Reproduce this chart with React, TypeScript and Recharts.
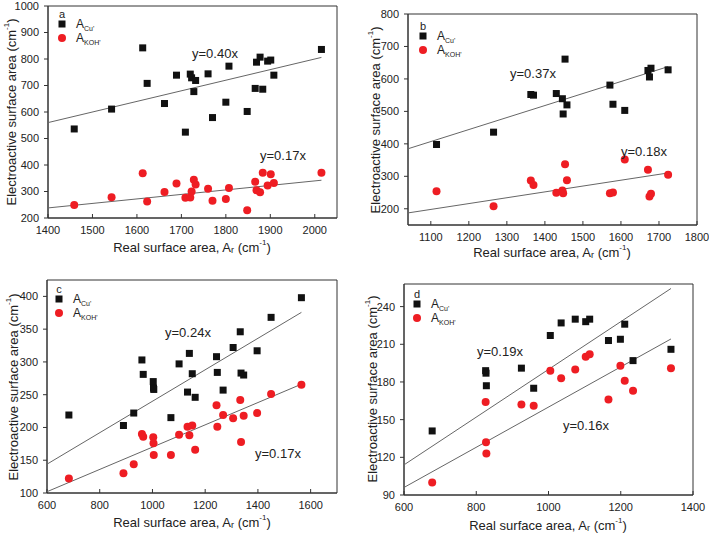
import React from 'react';
import { ScatterChart, Scatter, XAxis, YAxis, ReferenceArea } from 'recharts';

// panel a
const aX = [1459, 1543, 1613, 1623, 1662, 1689, 1709, 1720, 1723, 1728, 1732, 1760, 1770, 1800, 1807, 1848, 1866, 1869, 1877, 1883, 1894, 1901, 1908, 2015];
const aCu = [536, 611, 842, 708, 632, 739, 524, 743, 729, 677, 719, 744, 579, 637, 773, 602, 689, 788, 807, 686, 792, 796, 739, 836];
const aKoh = [249, 278, 369, 262, 298, 330, 276, 277, 300, 344, 326, 310, 265, 272, 313, 229, 337, 305, 297, 371, 323, 365, 332, 371];
const aXTicks = [1400, 1500, 1600, 1700, 1800, 1900, 2000];
const aYTicks = [200, 300, 400, 500, 600, 700, 800, 900, 1000];
const aSlopes = [0.4, 0.17];

// panel b
const bX = [1115, 1265, 1363, 1370, 1430, 1446, 1448, 1453, 1458, 1571, 1579, 1610, 1671, 1675, 1679, 1724];
const bCu = [398, 436, 552, 550, 555, 539, 492, 661, 520, 581, 522, 503, 626, 606, 633, 628];
const bKoh = [254, 208, 287, 273, 249, 256, 248, 337, 288, 248, 250, 352, 320, 238, 246, 305];
const bXTicks = [1100, 1200, 1300, 1400, 1500, 1600, 1700, 1800];
const bYTicks = [200, 300, 400, 500, 600, 700, 800];
const bSlopes = [0.37, 0.18];

// panel c
const cX = [683, 890, 929, 960, 965, 1003, 1004, 1005, 1070, 1101, 1133, 1140, 1151, 1162, 1243, 1246, 1268, 1306, 1333, 1336, 1346, 1397, 1450, 1565];
const cCu = [219, 203, 222, 303, 281, 270, 260, 258, 215, 297, 254, 313, 282, 246, 308, 284, 257, 322, 346, 283, 280, 317, 368, 398];
const cKoh = [122, 130, 144, 190, 186, 185, 176, 158, 158, 189, 201, 188, 203, 166, 234, 201, 219, 214, 242, 178, 218, 222, 251, 265];
const cXTicks = [600, 800, 1000, 1200, 1400, 1600];
const cYTicks = [100, 150, 200, 250, 300, 350, 400];
const cSlopes = [0.24, 0.17];

// panel d
const dX = [678, 826, 827, 828, 925, 959, 1005, 1035, 1074, 1103, 1114, 1166, 1199, 1211, 1234, 1339];
const dCu = [141, 189, 187, 177, 191, 175, 217, 227, 230, 228, 230, 213, 214, 226, 197, 206];
const dKoh = [100, 164, 132, 123, 162, 161, 189, 183, 190, 200, 202, 166, 193, 181, 173, 191];
const dXTicks = [600, 800, 1000, 1200, 1400];
const dYTicks = [90, 120, 150, 180, 210, 240];
const dSlopes = [0.19, 0.16];

const FONT = '"Liberation Sans", Arial, sans-serif';
const RED = '#ee1d23';
const INK = '#222';
const BOX_W = 355;
const BOX_H = 267;

const toPoints = (xs: number[], ys: number[]) => xs.map((x, i) => ({ x, y: ys[i] }));
const fitLine = (k: number, x0: number, x1: number) => [
  { x: x0, y: k * x0 },
  { x: x1, y: k * x1 },
];

const Square = (p: any) => <rect x={p.cx - 3.5} y={p.cy - 3.5} width={7} height={7} fill="#111" />;
const Dot = (p: any) => <circle cx={p.cx} cy={p.cy} r={4} fill={RED} />;
const NoShape = () => <g />;

interface PanelProps {
  letter: string;
  xs: number[];
  cu: number[];
  koh: number[];
  slopes: number[];
  xDomain: [number, number];
  yDomain: [number, number];
  xTicks: number[];
  yTicks: number[];
  left: number;
  top: number;
  margin: { top: number; right: number; bottom: number; left: number };
  legendAt: [number, number];
  notes: [number, number][];
  xTitleAt: [number, number];
  yTitleAt: [number, number];
}

const Panel: React.FC<PanelProps> = (p) => {
  const lastX = Math.max(...p.xs);
  return (
    <div style={{ position: 'absolute', left: p.left, top: p.top, width: BOX_W, height: BOX_H }}>
      <ScatterChart width={BOX_W} height={BOX_H} margin={p.margin}>
        <XAxis
          type="number"
          dataKey="x"
          domain={p.xDomain}
          ticks={p.xTicks}
          allowDataOverflow
          height={30}
          tickSize={-4}
          tickMargin={12}
          axisLine={{ stroke: '#333' }}
          tickLine={{ stroke: '#333' }}
          tick={{ fontSize: 11, fill: INK, fontFamily: FONT }}
        />
        <YAxis
          type="number"
          dataKey="y"
          domain={p.yDomain}
          ticks={p.yTicks}
          allowDataOverflow
          width={44}
          tickSize={4}
          tickMargin={5}
          axisLine={{ stroke: '#333' }}
          tickLine={{ stroke: '#333' }}
          tick={{ fontSize: 11, fill: INK, fontFamily: FONT }}
        />
        <ReferenceArea
          x1={p.xDomain[0]}
          x2={p.xDomain[1]}
          y1={p.yDomain[0]}
          y2={p.yDomain[1]}
          fill="none"
          stroke="#333"
          strokeWidth={1}
          ifOverflow="visible"
        />
        {p.slopes.map((k, i) => (
          <Scatter
            key={`fit-${i}`}
            data={fitLine(k, p.xDomain[0], lastX)}
            line={{ stroke: '#666', strokeWidth: 1 }}
            shape={NoShape}
            isAnimationActive={false}
          />
        ))}
        <Scatter data={toPoints(p.xs, p.cu)} shape={Square} isAnimationActive={false} />
        <Scatter data={toPoints(p.xs, p.koh)} shape={Dot} isAnimationActive={false} />
      </ScatterChart>
      <svg
        width={BOX_W}
        height={BOX_H}
        style={{ position: 'absolute', left: 0, top: 0, pointerEvents: 'none' }}
        fontFamily={FONT}
        fill={INK}
      >
        <text x={p.legendAt[0]} y={p.legendAt[1] - 10} fontSize={11} textAnchor="middle" dominantBaseline="central">
          {p.letter}
        </text>
        <rect x={p.legendAt[0] - 3.5} y={p.legendAt[1] - 3.5} width={7} height={7} fill="#111" />
        <circle cx={p.legendAt[0]} cy={p.legendAt[1] + 14} r={4} fill={RED} />
        <text x={p.legendAt[0] + 14} y={p.legendAt[1] + 4} fontSize={12}>
          A<tspan fontSize={7} dy={3}>Cu'</tspan>
        </text>
        <text x={p.legendAt[0] + 14} y={p.legendAt[1] + 18} fontSize={12}>
          A<tspan fontSize={7} dy={3}>KOH'</tspan>
        </text>
        {p.slopes.map((k, i) => (
          <text key={`n-${i}`} x={p.notes[i][0]} y={p.notes[i][1]} fontSize={13} dominantBaseline="central">
            {`y=${k.toFixed(2)}x`}
          </text>
        ))}
        <text x={p.xTitleAt[0]} y={p.xTitleAt[1]} fontSize={13} textAnchor="middle" dominantBaseline="central">
          Real surface area, A<tspan fontSize={9} dy={3}>r</tspan>
          <tspan dy={-3}> (cm</tspan>
          <tspan fontSize={8} dy={-5}>-1</tspan>
          <tspan dy={5}>)</tspan>
        </text>
        <text
          x={p.yTitleAt[0]}
          y={p.yTitleAt[1]}
          fontSize={13}
          textAnchor="middle"
          dominantBaseline="central"
          transform={`rotate(-90 ${p.yTitleAt[0]} ${p.yTitleAt[1]})`}
        >
          Electroactive surface area (cm<tspan fontSize={8} dy={-5}>-1</tspan>
          <tspan dy={5}>)</tspan>
        </text>
      </svg>
    </div>
  );
};

const App: React.FC = () => (
  <div style={{ position: 'absolute', left: 0, top: 0, width: 709, height: 534, background: '#fff', fontFamily: FONT }}>
    <Panel
      letter="a"
      xs={aX}
      cu={aCu}
      koh={aKoh}
      slopes={aSlopes}
      xDomain={[1400, 2050]}
      yDomain={[200, 1000]}
      xTicks={aXTicks}
      yTicks={aYTicks}
      left={0}
      top={0}
      margin={{ top: 6, right: 18, bottom: 19, left: 4 }}
      legendAt={[62, 24]}
      notes={[[192, 53], [260, 155]]}
      xTitleAt={[192, 247]}
      yTitleAt={[11, 112]}
    />
    <Panel
      letter="b"
      xs={bX}
      cu={bCu}
      koh={bKoh}
      slopes={bSlopes}
      xDomain={[1040, 1800]}
      yDomain={[150, 800]}
      xTicks={bXTicks}
      yTicks={bYTicks}
      left={354}
      top={0}
      margin={{ top: 14, right: 12, bottom: 12, left: 10 }}
      legendAt={[69, 36]}
      notes={[[156, 73], [267, 151]]}
      xTitleAt={[198, 252]}
      yTitleAt={[21, 120]}
    />
    <Panel
      letter="c"
      xs={cX}
      cu={cCu}
      koh={cKoh}
      slopes={cSlopes}
      xDomain={[600, 1700]}
      yDomain={[100, 425]}
      xTicks={cXTicks}
      yTicks={cYTicks}
      left={0}
      top={267}
      margin={{ top: 13, right: 18, bottom: 11, left: 3 }}
      legendAt={[59, 32]}
      notes={[[165, 65], [255, 186]]}
      xTitleAt={[192, 255]}
      yTitleAt={[13, 120]}
    />
    <Panel
      letter="d"
      xs={dX}
      cu={dCu}
      koh={dKoh}
      slopes={dSlopes}
      xDomain={[600, 1400]}
      yDomain={[90, 258]}
      xTicks={dXTicks}
      yTicks={dYTicks}
      left={354}
      top={267}
      margin={{ top: 17, right: 16, bottom: 9, left: 6 }}
      legendAt={[63, 37]}
      notes={[[123, 84], [209, 158]]}
      xTitleAt={[194, 258]}
      yTitleAt={[18, 122]}
    />
  </div>
);

export default App;
